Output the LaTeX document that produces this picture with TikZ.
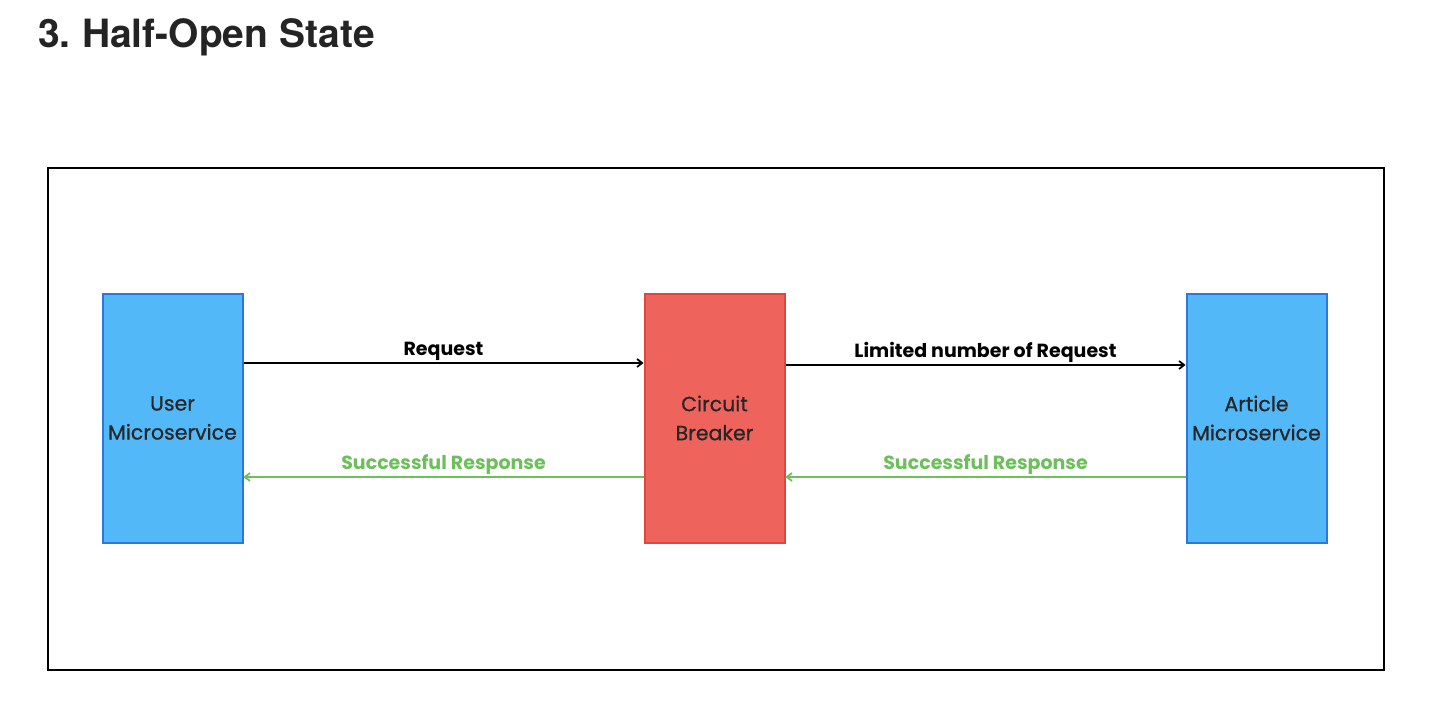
\documentclass[tikz,border=0pt]{standalone}
\usepackage{fontspec}
\setmainfont{Poppins}
\newfontfamily\popm{Poppins}[FakeBold=0.7]
\newfontfamily\titlefont{TeX Gyre Heros}
\usetikzlibrary{arrows.meta}
\definecolor{bluefill}{HTML}{52B8F8}
\definecolor{blueline}{HTML}{2A78D8}
\definecolor{redfill}{HTML}{EE635C}
\definecolor{redline}{HTML}{E2453E}
\definecolor{okgreen}{HTML}{6CBF5A}
\definecolor{titlegray}{HTML}{242424}
\tikzset{
  svc/.style={draw=blueline, fill=bluefill, line width=2pt, minimum width=140pt, minimum height=249pt, inner sep=0pt, align=center, font=\popm\fontsize{20.5}{29}\selectfont, text=black!85},
  brk/.style={svc, draw=redline, fill=redfill},
  req/.style={-{Straight Barb[length=5pt,width=8pt]}, line width=1.8pt, black},
  resp/.style={-{Straight Barb[length=5pt,width=8pt]}, line width=1.8pt, okgreen},
  reqlab/.style={font=\bfseries\fontsize{19}{22}\selectfont, text=black, above=-2pt},
  resplab/.style={font=\bfseries\fontsize{19}{22}\selectfont, text=okgreen, above=-2pt},
}
\begin{document}
\begin{tikzpicture}[x=1pt,y=-1pt]
\useasboundingbox (0,0) rectangle (1434,714);
\node[anchor=base west, font=\titlefont\bfseries\fontsize{39}{45}\selectfont, text=titlegray, inner sep=0pt] (title) at (38,48) {3.\kern-3pt{} Half-Open State};
\node[draw=black, line width=2pt, minimum width=1336pt, minimum height=502pt, inner sep=0pt] (frame) at (716,419) {};
\node[svc] (user) at (172.5,418) {User\\Microservice};
\node[brk] (cb) at (714.5,418) {Circuit\\Breaker};
\node[svc] (art) at (1256.5,418) {Article\\Microservice};
\draw[req] (user.east |- 0,363) -- node[reqlab] {Request} (cb.west |- 0,363);
\draw[req] (cb.east |- 0,365) -- node[reqlab] {Limited number of Request} (art.west |- 0,365);
\draw[resp] (cb.west |- 0,477) -- node[resplab] {Successful Response} (user.east |- 0,477);
\draw[resp] (art.west |- 0,477) -- node[resplab] {Successful Response} (cb.east |- 0,477);
\end{tikzpicture}
\end{document}
